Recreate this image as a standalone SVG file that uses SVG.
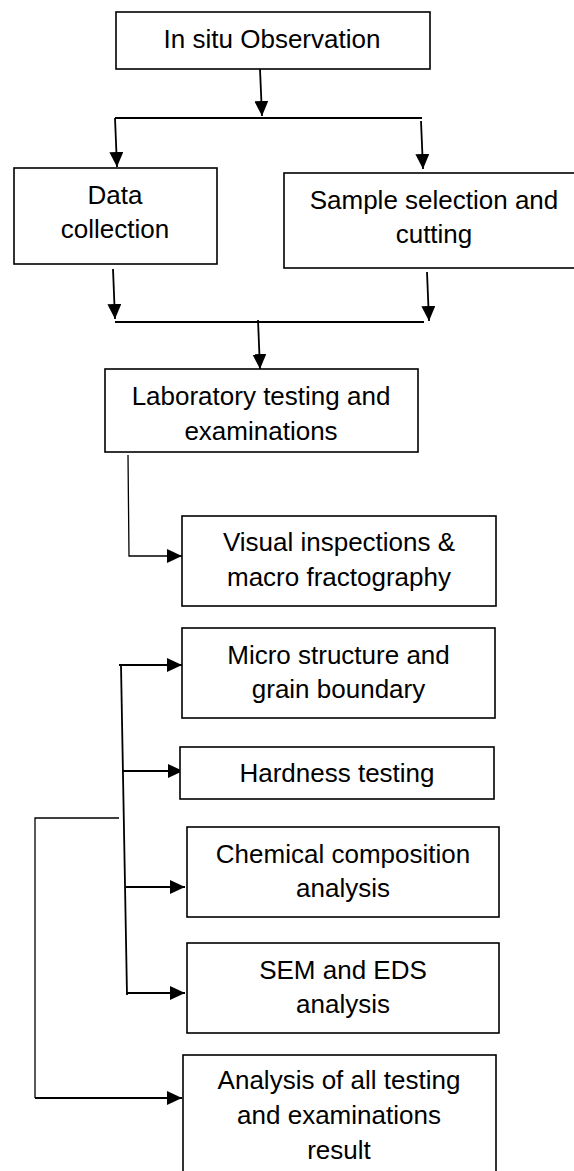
<svg xmlns="http://www.w3.org/2000/svg" width="574" height="1171" viewBox="0 0 574 1171">
<style>
.box{fill:#fff;stroke:#000;stroke-width:1.6}
.t{font-family:"Liberation Sans",Arial,sans-serif;font-size:26px;fill:#000;text-anchor:middle}
.c{fill:none;stroke:#000;stroke-width:1.8}
.thin{fill:none;stroke:#000;stroke-width:1.3}
.a{marker-end:url(#ah)}
</style>
<defs>
<marker id="ah" markerUnits="userSpaceOnUse" markerWidth="16" markerHeight="14" refX="15" refY="7" orient="auto" viewBox="0 0 16 14">
<path d="M0,0 L15,7 L0,14 Z" fill="#000"/>
</marker>
</defs>
<rect width="574" height="1171" fill="#fff"/>
<g id="connectors">
<line class="c a" x1="260" y1="69" x2="262" y2="116"/>
<line class="c" x1="115" y1="118" x2="422" y2="118"/>
<line class="c a" x1="115" y1="118" x2="117" y2="167"/>
<line class="c a" x1="421" y1="121" x2="423" y2="169"/>
<line class="c a" x1="113" y1="269" x2="115" y2="319"/>
<line class="c a" x1="427" y1="272" x2="429" y2="321"/>
<line class="c" x1="115" y1="322" x2="424" y2="322"/>
<line class="c a" x1="258" y1="320" x2="260" y2="369"/>
<polyline class="thin a" points="128,455 129,556 182,556"/>
<line class="c" x1="121" y1="665" x2="127" y2="995"/>
<line class="c a" x1="119" y1="665" x2="182" y2="665"/>
<line class="c a" x1="123" y1="771" x2="183" y2="771"/>
<line class="c a" x1="126" y1="887" x2="185" y2="887"/>
<line class="c a" x1="127" y1="993" x2="185" y2="993"/>
<polyline class="thin" points="119,818 35,818 35,1098"/>
<line class="c a" x1="35" y1="1098" x2="182" y2="1098"/>
</g>
<g id="n1"><rect class="box" x="116" y="12" width="314" height="57"/><text class="t" x="272" y="48">In situ Observation</text></g>
<g id="n2"><rect class="box" x="14" y="168" width="203" height="96"/><text class="t" x="115" y="204">Data</text><text class="t" x="115" y="238">collection</text></g>
<g id="n3"><rect class="box" x="284" y="173" width="300" height="95"/><text class="t" x="434" y="209">Sample selection and</text><text class="t" x="434" y="243">cutting</text></g>
<g id="n4"><rect class="box" x="105" y="369" width="313" height="83"/><text class="t" x="261" y="405">Laboratory testing and</text><text class="t" x="261" y="440">examinations</text></g>
<g id="n5"><rect class="box" x="182" y="516" width="314" height="90"/><text class="t" x="339" y="551">Visual inspections &amp;</text><text class="t" x="339" y="586">macro fractography</text></g>
<g id="n6"><rect class="box" x="182" y="628" width="313" height="90"/><text class="t" x="338.5" y="664">Micro structure and</text><text class="t" x="338.5" y="698">grain boundary</text></g>
<g id="n7"><rect class="box" x="180" y="747" width="314" height="52"/><text class="t" x="337" y="782">Hardness testing</text></g>
<g id="n8"><rect class="box" x="187" y="827" width="312" height="90"/><text class="t" x="343" y="863">Chemical composition</text><text class="t" x="343" y="897">analysis</text></g>
<g id="n9"><rect class="box" x="187" y="943" width="312" height="90"/><text class="t" x="343" y="979">SEM and EDS</text><text class="t" x="343" y="1013">analysis</text></g>
<g id="n10"><rect class="box" x="183" y="1055" width="313" height="200"/><text class="t" x="339" y="1089">Analysis of all testing</text><text class="t" x="339" y="1124">and examinations</text><text class="t" x="339" y="1159">result</text></g>
</svg>
